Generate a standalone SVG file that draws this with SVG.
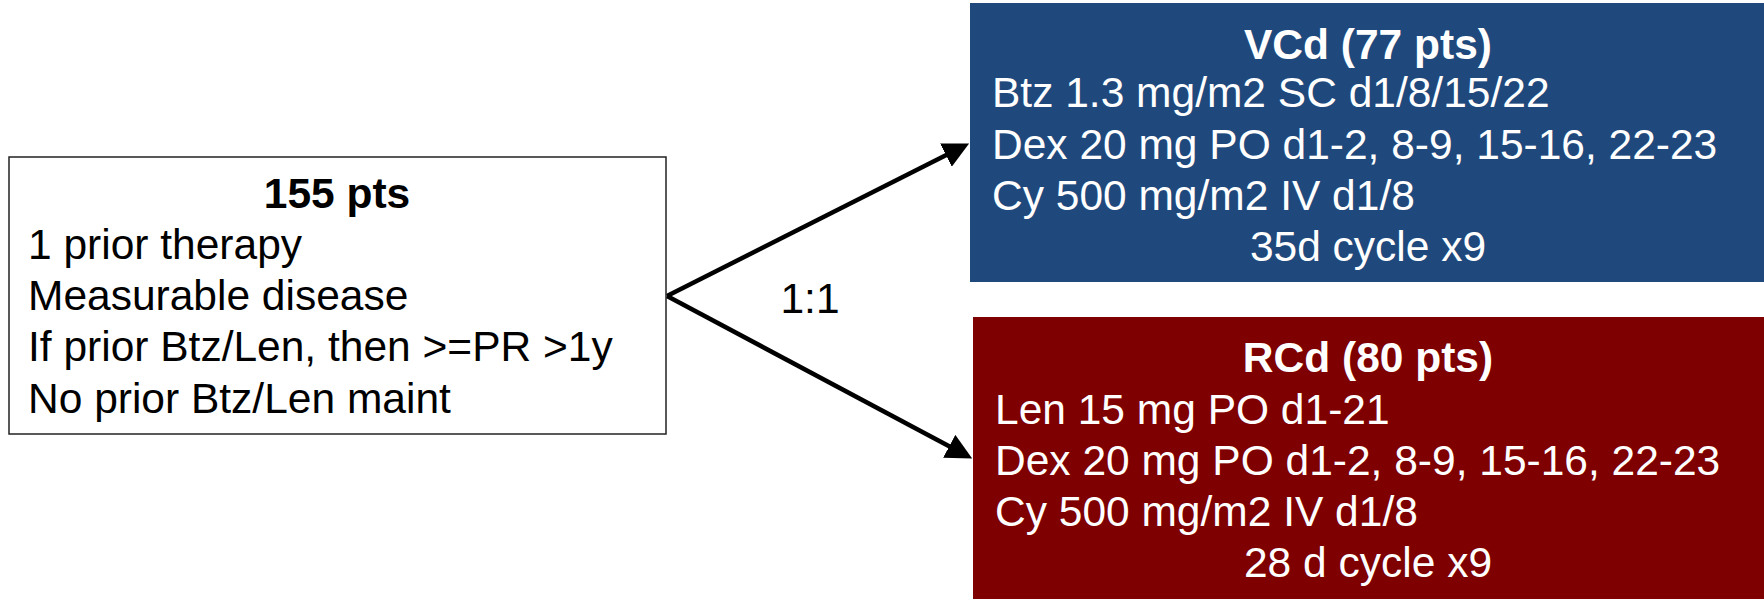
<svg xmlns="http://www.w3.org/2000/svg" width="1764" height="599" viewBox="0 0 1764 599">
  <defs>
    <!-- filled triangle; the line stops at its base so the tip stays sharp -->
    <marker id="arrowhead" markerWidth="26" markerHeight="26" refX="1" refY="13" orient="auto" markerUnits="userSpaceOnUse" viewBox="0 0 26 26">
      <path d="M0,0 L26,13 L0,26 Z" fill="#000"/>
    </marker>
    <style>
      text { font-family: "Liberation Sans", Arial, sans-serif; font-size: 42.5px; }
      .title { font-weight: bold; text-anchor: middle; }
      .mid { text-anchor: middle; }
      .light { fill: #ffffff; }
      .dark { fill: #000000; }
      .conn { stroke: #000; stroke-width: 4.5; fill: none; }
    </style>
  </defs>
  <rect width="1764" height="599" fill="#ffffff"/>

  <g id="connectors">
    <line class="conn" x1="667" y1="296" x2="946.8" y2="154.7" marker-end="url(#arrowhead)"/>
    <line class="conn" x1="667" y1="296" x2="950.1" y2="446.8" marker-end="url(#arrowhead)"/>
    <text class="mid dark" x="810" y="313">1:1</text>
  </g>

  <g id="node-enrolled">
    <rect x="9" y="157" width="657" height="277" fill="#ffffff" stroke="#222" stroke-width="1.5"/>
    <text class="title dark" x="337" y="208">155 pts</text>
    <text class="dark" x="28" y="259">1 prior therapy</text>
    <text class="dark" x="28" y="310">Measurable disease</text>
    <text class="dark" x="28" y="361">If prior Btz/Len, then &gt;=PR &gt;1y</text>
    <text class="dark" x="28" y="413">No prior Btz/Len maint</text>
  </g>

  <g id="node-vcd">
    <rect x="970" y="3" width="794" height="279" fill="#1f497d"/>
    <text class="title light" x="1368" y="59">VCd (77 pts)</text>
    <text class="light" x="992" y="107">Btz 1.3 mg/m2 SC d1/8/15/22</text>
    <text class="light" x="992" y="159">Dex 20 mg PO d1-2, 8-9, 15-16, 22-23</text>
    <text class="light" x="992" y="210">Cy 500 mg/m2 IV d1/8</text>
    <text class="mid light" x="1368" y="261">35d cycle x9</text>
  </g>

  <g id="node-rcd">
    <rect x="973" y="317" width="791" height="282" fill="#7f0000"/>
    <text class="title light" x="1368" y="372">RCd (80 pts)</text>
    <text class="light" x="995" y="424">Len 15 mg PO d1-21</text>
    <text class="light" x="995" y="475">Dex 20 mg PO d1-2, 8-9, 15-16, 22-23</text>
    <text class="light" x="995" y="526">Cy 500 mg/m2 IV d1/8</text>
    <text class="mid light" x="1368" y="577">28 d cycle x9</text>
  </g>
</svg>
